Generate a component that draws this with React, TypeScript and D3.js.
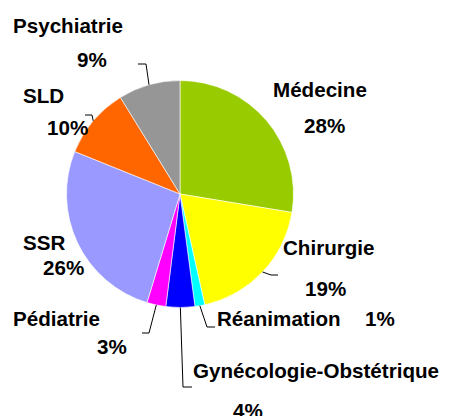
import React from "react";
import * as d3 from "d3";

const categories = [
  "Médecine",
  "Chirurgie",
  "Réanimation",
  "Gynécologie-Obstétrique",
  "Pédiatrie",
  "SSR",
  "SLD",
  "Psychiatrie",
];
const values = [27.6, 18.9, 1.4, 4.1, 2.7, 26.4, 10.1, 8.8];
const colors = ["#99CC00", "#FFFF00", "#00FFFF", "#0000FF", "#FF00FF", "#9999FF", "#FF6600", "#969696"];

// label layout (positions only)
const nameLayout: [number, number][] = [
  [273, 97], [283, 255], [217, 326], [193, 378], [13, 326], [23, 250], [23, 103], [13, 33],
];
const pctLayout: [number, number][] = [
  [304, 133], [305, 296], [365, 326], [233, 418], [97, 354], [43, 275], [47, 135], [77, 67],
];
const leaderLayout: ([number, number][] | null)[] = [
  null,
  [[271, 275], [278, 275]],
  [[207, 327], [215, 327]],
  [[183, 387], [192, 387]],
  [[149, 333], [142, 333]],
  null,
  [[92, 115], [85, 115]],
  [[146, 64], [138, 64]],
];

const W = 450;
const H = 416;
const cx = 180;
const cy = 194;
const R = 113.5;

export default function App() {
  const total = d3.sum(values);
  const pie = d3.pie<number>().sort(null).value((d) => d)(values);
  const arc = d3.arc<d3.PieArcDatum<number>>().innerRadius(0).outerRadius(R);
  const font = "'Liberation Sans', Arial, sans-serif";
  return (
    <svg width={W} height={H} style={{ position: "absolute", left: 0, top: 0, background: "#fff" }}>
      <g transform={`translate(${cx},${cy})`}>
        {pie.map((p, i) => (
          <path key={i} d={arc(p) || ""} fill={colors[i]} stroke="#fff" strokeWidth={0.6} />
        ))}
      </g>
      {pie.map((p, i) => {
        const L = leaderLayout[i];
        if (!L) return null;
        const a = (p.startAngle + p.endAngle) / 2;
        const ex = cx + R * Math.sin(a);
        const ey = cy - R * Math.cos(a);
        const pts: [number, number][] = [[ex, ey], ...L];
        return (
          <path key={"l" + i} d={d3.line()(pts) || ""} fill="none" stroke="#000" strokeWidth={1} />
        );
      })}
      {categories.map((c, i) => (
        <g key={"t" + i} fontFamily={font} fontWeight="bold" fontSize={20.6} fill="#000">
          <text x={nameLayout[i][0]} y={nameLayout[i][1]}>{c}</text>
          <text x={pctLayout[i][0]} y={pctLayout[i][1]}>
            {Math.round((values[i] / total) * 100)}%
          </text>
        </g>
      ))}
    </svg>
  );
}
